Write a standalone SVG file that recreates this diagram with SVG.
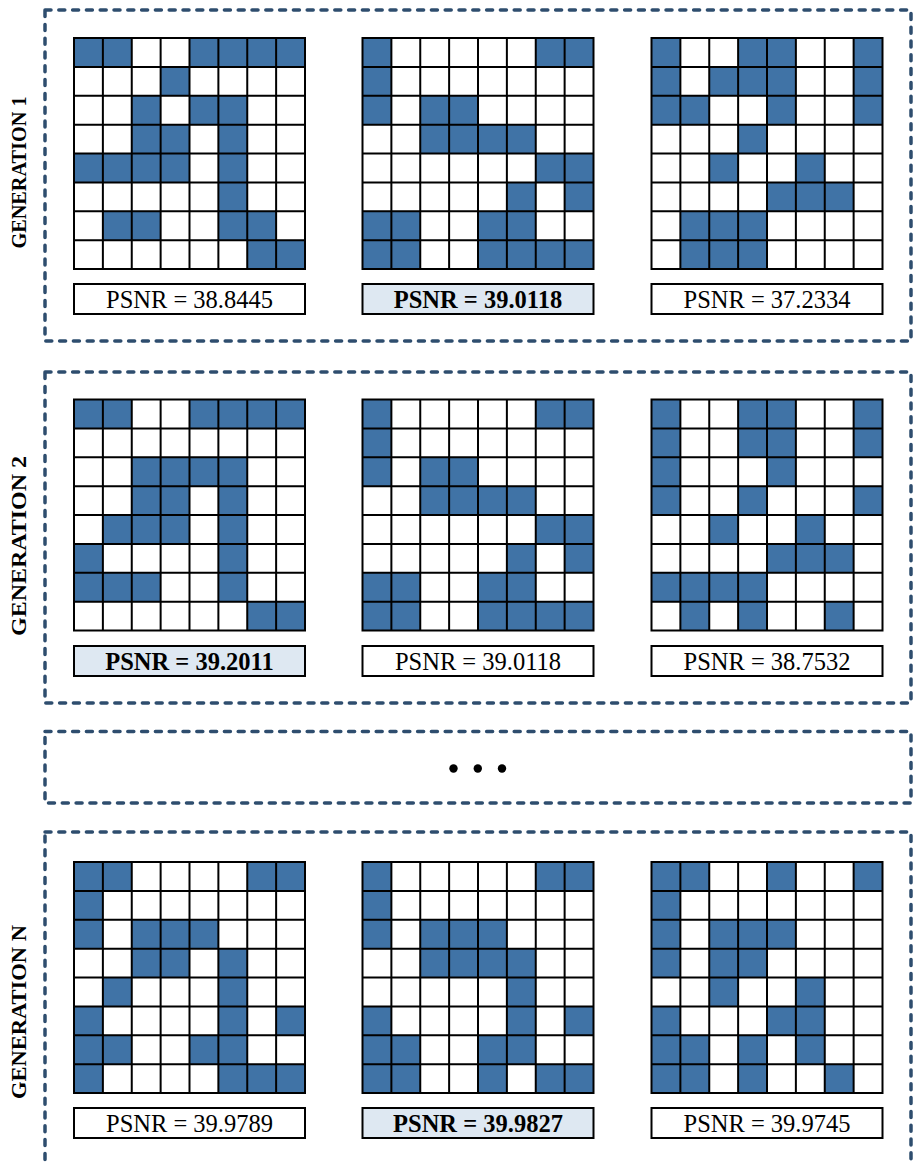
<svg xmlns="http://www.w3.org/2000/svg" xmlns:xlink="http://www.w3.org/1999/xlink" width="914" height="1163" viewBox="0 0 914 1163">
<style>
.frame{fill:none;stroke:#2E4D6E;stroke-width:3.5;stroke-dasharray:6 7.8;stroke-linecap:round}
.lbl{font-family:"Liberation Serif","Times New Roman",serif;font-weight:bold;font-size:21px;fill:#000}
.ps{font-family:"Liberation Serif","Times New Roman",serif;font-size:24.5px;fill:#000;text-anchor:middle}
.psb{font-weight:bold}
.pbox{fill:#fff;stroke:#000;stroke-width:2}
.pboxh{fill:#DEE8F2;stroke:#000;stroke-width:2}
</style>
<defs>
<rect id="k" width="28.875" height="28.875" fill="#4073A6"/>
<path id="gl" d="M0 0V231M28.875 0V231M57.75 0V231M86.625 0V231M115.5 0V231M144.375 0V231M173.25 0V231M202.125 0V231M231 0V231M0 0H231M0 28.875H231M0 57.75H231M0 86.625H231M0 115.5H231M0 144.375H231M0 173.25H231M0 202.125H231M0 231H231" stroke="#000" stroke-width="2" fill="none" stroke-linecap="square"/>
</defs>
<rect width="914" height="1163" fill="#fff"/>

<g id="gen1">
<rect class="frame" x="45" y="10" width="866" height="331"/>
<text class="lbl" transform="translate(25.5,172.5) rotate(-90)" x="-76" textLength="152" lengthAdjust="spacingAndGlyphs">GENERATION 1</text>
<g id="g1a" transform="translate(74,38)">
<use href="#k" x="0" y="0"/><use href="#k" x="28.875" y="0"/><use href="#k" x="115.5" y="0"/><use href="#k" x="144.375" y="0"/><use href="#k" x="173.25" y="0"/><use href="#k" x="202.125" y="0"/>
<use href="#k" x="86.625" y="28.875"/>
<use href="#k" x="57.75" y="57.75"/><use href="#k" x="115.5" y="57.75"/><use href="#k" x="144.375" y="57.75"/>
<use href="#k" x="57.75" y="86.625"/><use href="#k" x="86.625" y="86.625"/><use href="#k" x="144.375" y="86.625"/>
<use href="#k" x="0" y="115.5"/><use href="#k" x="28.875" y="115.5"/><use href="#k" x="57.75" y="115.5"/><use href="#k" x="86.625" y="115.5"/><use href="#k" x="144.375" y="115.5"/>
<use href="#k" x="144.375" y="144.375"/>
<use href="#k" x="28.875" y="173.25"/><use href="#k" x="57.75" y="173.25"/><use href="#k" x="144.375" y="173.25"/><use href="#k" x="173.25" y="173.25"/>
<use href="#k" x="173.25" y="202.125"/><use href="#k" x="202.125" y="202.125"/>
<use href="#gl"/>
<rect class="pbox" x="0" y="246" width="231" height="30"/>
<text class="ps" x="115.5" y="269.5">PSNR = 38.8445</text>
</g>
<g id="g1b" transform="translate(362.5,38)">
<use href="#k" x="0" y="0"/><use href="#k" x="173.25" y="0"/><use href="#k" x="202.125" y="0"/>
<use href="#k" x="0" y="28.875"/>
<use href="#k" x="0" y="57.75"/><use href="#k" x="57.75" y="57.75"/><use href="#k" x="86.625" y="57.75"/>
<use href="#k" x="57.75" y="86.625"/><use href="#k" x="86.625" y="86.625"/><use href="#k" x="115.5" y="86.625"/><use href="#k" x="144.375" y="86.625"/>
<use href="#k" x="173.25" y="115.5"/><use href="#k" x="202.125" y="115.5"/>
<use href="#k" x="144.375" y="144.375"/><use href="#k" x="202.125" y="144.375"/>
<use href="#k" x="0" y="173.25"/><use href="#k" x="28.875" y="173.25"/><use href="#k" x="115.5" y="173.25"/><use href="#k" x="144.375" y="173.25"/>
<use href="#k" x="0" y="202.125"/><use href="#k" x="28.875" y="202.125"/><use href="#k" x="115.5" y="202.125"/><use href="#k" x="144.375" y="202.125"/><use href="#k" x="173.25" y="202.125"/><use href="#k" x="202.125" y="202.125"/>
<use href="#gl"/>
<rect class="pboxh" x="0" y="246" width="231" height="30"/>
<text class="ps psb" x="115.5" y="269.5">PSNR = 39.0118</text>
</g>
<g id="g1c" transform="translate(651.5,38)">
<use href="#k" x="0" y="0"/><use href="#k" x="86.625" y="0"/><use href="#k" x="115.5" y="0"/><use href="#k" x="202.125" y="0"/>
<use href="#k" x="0" y="28.875"/><use href="#k" x="57.75" y="28.875"/><use href="#k" x="86.625" y="28.875"/><use href="#k" x="115.5" y="28.875"/><use href="#k" x="202.125" y="28.875"/>
<use href="#k" x="0" y="57.75"/><use href="#k" x="28.875" y="57.75"/><use href="#k" x="115.5" y="57.75"/><use href="#k" x="202.125" y="57.75"/>
<use href="#k" x="86.625" y="86.625"/>
<use href="#k" x="57.75" y="115.5"/><use href="#k" x="144.375" y="115.5"/>
<use href="#k" x="115.5" y="144.375"/><use href="#k" x="144.375" y="144.375"/><use href="#k" x="173.25" y="144.375"/>
<use href="#k" x="28.875" y="173.25"/><use href="#k" x="57.75" y="173.25"/><use href="#k" x="86.625" y="173.25"/>
<use href="#k" x="28.875" y="202.125"/><use href="#k" x="57.75" y="202.125"/><use href="#k" x="86.625" y="202.125"/>
<use href="#gl"/>
<rect class="pbox" x="0" y="246" width="231" height="30"/>
<text class="ps" x="115.5" y="269.5">PSNR = 37.2334</text>
</g>
</g>

<g id="gen2">
<rect class="frame" x="45" y="372" width="866" height="331"/>
<text class="lbl" transform="translate(25.5,546) rotate(-90)" x="-90" textLength="180" lengthAdjust="spacingAndGlyphs">GENERATION 2</text>
<g id="g2a" transform="translate(74,399.5)">
<use href="#k" x="0" y="0"/><use href="#k" x="28.875" y="0"/><use href="#k" x="115.5" y="0"/><use href="#k" x="144.375" y="0"/><use href="#k" x="173.25" y="0"/><use href="#k" x="202.125" y="0"/>
<use href="#k" x="57.75" y="57.75"/><use href="#k" x="86.625" y="57.75"/><use href="#k" x="115.5" y="57.75"/><use href="#k" x="144.375" y="57.75"/>
<use href="#k" x="57.75" y="86.625"/><use href="#k" x="86.625" y="86.625"/><use href="#k" x="144.375" y="86.625"/>
<use href="#k" x="28.875" y="115.5"/><use href="#k" x="57.75" y="115.5"/><use href="#k" x="86.625" y="115.5"/><use href="#k" x="144.375" y="115.5"/>
<use href="#k" x="0" y="144.375"/><use href="#k" x="144.375" y="144.375"/>
<use href="#k" x="0" y="173.25"/><use href="#k" x="28.875" y="173.25"/><use href="#k" x="57.75" y="173.25"/><use href="#k" x="144.375" y="173.25"/>
<use href="#k" x="173.25" y="202.125"/><use href="#k" x="202.125" y="202.125"/>
<use href="#gl"/>
<rect class="pboxh" x="0" y="246.5" width="231" height="30"/>
<text class="ps psb" x="115.5" y="270">PSNR = 39.2011</text>
</g>
<g id="g2b" transform="translate(362.5,399.5)">
<use href="#k" x="0" y="0"/><use href="#k" x="173.25" y="0"/><use href="#k" x="202.125" y="0"/>
<use href="#k" x="0" y="28.875"/>
<use href="#k" x="0" y="57.75"/><use href="#k" x="57.75" y="57.75"/><use href="#k" x="86.625" y="57.75"/>
<use href="#k" x="57.75" y="86.625"/><use href="#k" x="86.625" y="86.625"/><use href="#k" x="115.5" y="86.625"/><use href="#k" x="144.375" y="86.625"/>
<use href="#k" x="173.25" y="115.5"/><use href="#k" x="202.125" y="115.5"/>
<use href="#k" x="144.375" y="144.375"/><use href="#k" x="202.125" y="144.375"/>
<use href="#k" x="0" y="173.25"/><use href="#k" x="28.875" y="173.25"/><use href="#k" x="115.5" y="173.25"/><use href="#k" x="144.375" y="173.25"/>
<use href="#k" x="0" y="202.125"/><use href="#k" x="28.875" y="202.125"/><use href="#k" x="115.5" y="202.125"/><use href="#k" x="144.375" y="202.125"/><use href="#k" x="173.25" y="202.125"/><use href="#k" x="202.125" y="202.125"/>
<use href="#gl"/>
<rect class="pbox" x="0" y="246.5" width="231" height="30"/>
<text class="ps" x="115.5" y="270">PSNR = 39.0118</text>
</g>
<g id="g2c" transform="translate(651.5,399.5)">
<use href="#k" x="0" y="0"/><use href="#k" x="86.625" y="0"/><use href="#k" x="115.5" y="0"/><use href="#k" x="202.125" y="0"/>
<use href="#k" x="0" y="28.875"/><use href="#k" x="86.625" y="28.875"/><use href="#k" x="115.5" y="28.875"/><use href="#k" x="202.125" y="28.875"/>
<use href="#k" x="0" y="57.75"/><use href="#k" x="115.5" y="57.75"/>
<use href="#k" x="0" y="86.625"/><use href="#k" x="86.625" y="86.625"/><use href="#k" x="202.125" y="86.625"/>
<use href="#k" x="57.75" y="115.5"/><use href="#k" x="144.375" y="115.5"/>
<use href="#k" x="115.5" y="144.375"/><use href="#k" x="144.375" y="144.375"/><use href="#k" x="173.25" y="144.375"/>
<use href="#k" x="0" y="173.25"/><use href="#k" x="28.875" y="173.25"/><use href="#k" x="57.75" y="173.25"/><use href="#k" x="86.625" y="173.25"/>
<use href="#k" x="28.875" y="202.125"/><use href="#k" x="86.625" y="202.125"/><use href="#k" x="173.25" y="202.125"/>
<use href="#gl"/>
<rect class="pbox" x="0" y="246.5" width="231" height="30"/>
<text class="ps" x="115.5" y="270">PSNR = 38.7532</text>
</g>
</g>

<g id="ellipsis">
<rect class="frame" x="45" y="731.5" width="866" height="71.5"/>
<circle cx="453.5" cy="768.5" r="4.2" fill="#000"/>
<circle cx="477.8" cy="768.5" r="4.2" fill="#000"/>
<circle cx="502" cy="768.5" r="4.2" fill="#000"/>
</g>

<g id="genN">
<rect class="frame" x="45" y="832" width="866" height="332.7"/>
<text class="lbl" transform="translate(25.5,1012) rotate(-90)" x="-87" textLength="174" lengthAdjust="spacingAndGlyphs">GENERATION N</text>
<g id="gNa" transform="translate(74,862)">
<use href="#k" x="0" y="0"/><use href="#k" x="28.875" y="0"/><use href="#k" x="173.25" y="0"/><use href="#k" x="202.125" y="0"/>
<use href="#k" x="0" y="28.875"/>
<use href="#k" x="0" y="57.75"/><use href="#k" x="57.75" y="57.75"/><use href="#k" x="86.625" y="57.75"/><use href="#k" x="115.5" y="57.75"/>
<use href="#k" x="57.75" y="86.625"/><use href="#k" x="86.625" y="86.625"/><use href="#k" x="144.375" y="86.625"/>
<use href="#k" x="28.875" y="115.5"/><use href="#k" x="144.375" y="115.5"/>
<use href="#k" x="0" y="144.375"/><use href="#k" x="144.375" y="144.375"/><use href="#k" x="202.125" y="144.375"/>
<use href="#k" x="0" y="173.25"/><use href="#k" x="28.875" y="173.25"/><use href="#k" x="115.5" y="173.25"/><use href="#k" x="144.375" y="173.25"/>
<use href="#k" x="0" y="202.125"/><use href="#k" x="144.375" y="202.125"/><use href="#k" x="173.25" y="202.125"/><use href="#k" x="202.125" y="202.125"/>
<use href="#gl"/>
<rect class="pbox" x="0" y="246" width="231" height="30"/>
<text class="ps" x="115.5" y="269.5">PSNR = 39.9789</text>
</g>
<g id="gNb" transform="translate(362.5,862)">
<use href="#k" x="0" y="0"/><use href="#k" x="173.25" y="0"/><use href="#k" x="202.125" y="0"/>
<use href="#k" x="0" y="28.875"/>
<use href="#k" x="0" y="57.75"/><use href="#k" x="57.75" y="57.75"/><use href="#k" x="86.625" y="57.75"/><use href="#k" x="115.5" y="57.75"/>
<use href="#k" x="57.75" y="86.625"/><use href="#k" x="86.625" y="86.625"/><use href="#k" x="115.5" y="86.625"/><use href="#k" x="144.375" y="86.625"/>
<use href="#k" x="144.375" y="115.5"/>
<use href="#k" x="0" y="144.375"/><use href="#k" x="144.375" y="144.375"/><use href="#k" x="202.125" y="144.375"/>
<use href="#k" x="0" y="173.25"/><use href="#k" x="28.875" y="173.25"/><use href="#k" x="115.5" y="173.25"/><use href="#k" x="144.375" y="173.25"/>
<use href="#k" x="0" y="202.125"/><use href="#k" x="28.875" y="202.125"/><use href="#k" x="115.5" y="202.125"/><use href="#k" x="173.25" y="202.125"/><use href="#k" x="202.125" y="202.125"/>
<use href="#gl"/>
<rect class="pboxh" x="0" y="246" width="231" height="30"/>
<text class="ps psb" x="115.5" y="269.5">PSNR = 39.9827</text>
</g>
<g id="gNc" transform="translate(651.5,862)">
<use href="#k" x="0" y="0"/><use href="#k" x="28.875" y="0"/><use href="#k" x="115.5" y="0"/><use href="#k" x="202.125" y="0"/>
<use href="#k" x="0" y="28.875"/>
<use href="#k" x="0" y="57.75"/><use href="#k" x="57.75" y="57.75"/><use href="#k" x="86.625" y="57.75"/><use href="#k" x="115.5" y="57.75"/>
<use href="#k" x="0" y="86.625"/><use href="#k" x="57.75" y="86.625"/><use href="#k" x="86.625" y="86.625"/>
<use href="#k" x="57.75" y="115.5"/><use href="#k" x="144.375" y="115.5"/>
<use href="#k" x="0" y="144.375"/><use href="#k" x="115.5" y="144.375"/><use href="#k" x="144.375" y="144.375"/>
<use href="#k" x="0" y="173.25"/><use href="#k" x="28.875" y="173.25"/><use href="#k" x="86.625" y="173.25"/><use href="#k" x="144.375" y="173.25"/>
<use href="#k" x="0" y="202.125"/><use href="#k" x="28.875" y="202.125"/><use href="#k" x="86.625" y="202.125"/><use href="#k" x="173.25" y="202.125"/>
<use href="#gl"/>
<rect class="pbox" x="0" y="246" width="231" height="30"/>
<text class="ps" x="115.5" y="269.5">PSNR = 39.9745</text>
</g>
</g>
</svg>
